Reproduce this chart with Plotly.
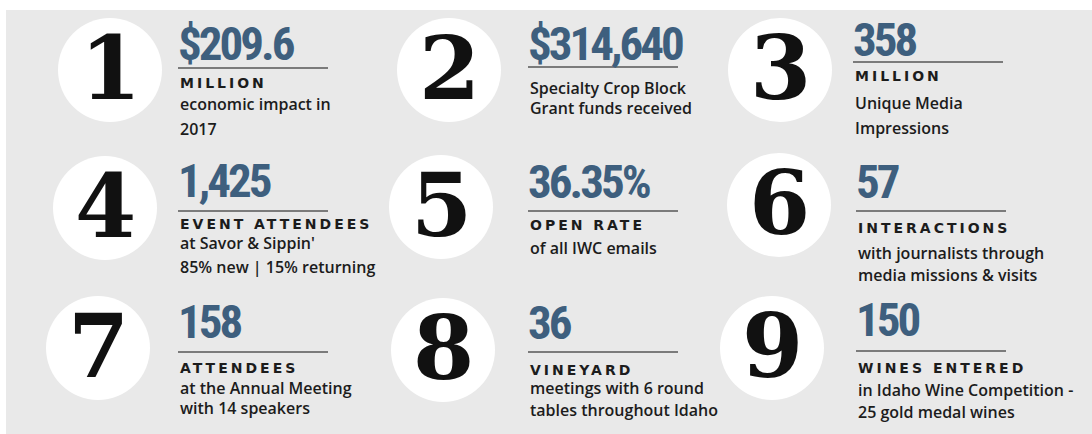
import plotly.graph_objects as go

# ---------------- data ----------------
numerals = ["1", "2", "3", "4", "5", "6", "7", "8", "9"]
values = ["$209.6", "$314,640", "358", "1,425", "36.35%", "57", "158", "36", "150"]
labels = ["MILLION", "", "MILLION", "EVENT ATTENDEES", "OPEN RATE", "INTERACTIONS",
          "ATTENDEES", "VINEYARD", "WINES ENTERED"]
descriptions = [
    ["economic impact in", "2017"],
    ["Specialty Crop Block", "Grant funds received"],
    ["Unique Media", "Impressions"],
    ["at Savor & Sippin'", "85% new | 15% returning"],
    ["of all IWC emails"],
    ["with journalists through", "media missions & visits"],
    ["at the Annual Meeting", "with 14 speakers"],
    ["meetings with 6 round", "tables throughout Idaho"],
    ["in Idaho Wine Competition -", "25 gold medal wines"],
]

# ---------------- layout (pixel positions) ----------------
W, H = 1092, 434
circle_x = [110, 449, 780, 105, 441, 779, 98, 443, 772]
circle_y = [70, 70, 70, 208, 207, 205, 348, 350, 348]
text_x = [178, 528, 853, 178, 528, 856, 178, 528, 856]
value_y = [43, 43, 39, 180, 181, 181, 321, 322, 319]
rule_y = [68, 67, 62, 211, 211, 211, 352, 352, 351]
label_y = [83, None, 76, 224, 225, 228, 368, 370, 368]
desc_y = [104, 88, 103, 243, 248, 253, 388, 388, 390]
desc_step = [25, 20, 25, 24, 22, 22, 20, 22, 22]
RULE_LEN = 150

BG = "#e9e9e9"
BLUE = "#3e5f7e"
INK = "#1c1c1c"

fig = go.Figure()

# white circles behind the big numerals
fig.add_trace(go.Scatter(
    x=circle_x, y=circle_y, mode="markers",
    marker=dict(size=104, color="white", line=dict(width=0)),
    hoverinfo="skip", showlegend=False,
))

shapes = [dict(type="rect", xref="x", yref="y", x0=6, x1=W, y0=10, y1=H,
               fillcolor=BG, line=dict(width=0), layer="below")]
annotations = []

for i in range(9):
    # big serif numeral
    annotations.append(dict(
        x=circle_x[i], y=circle_y[i] - 2, text=numerals[i], showarrow=False,
        xanchor="center", yanchor="middle",
        font=dict(family="DejaVu Serif", size=88, color="#111111", weight="bold"),
    ))
    # value
    annotations.append(dict(
        x=text_x[i] - 2, y=value_y[i],
        text='<span style="letter-spacing:-3px">' + values[i] + '</span>',
        showarrow=False, xanchor="left", yanchor="middle",
        font=dict(family="Roboto Condensed, Liberation Sans Narrow, DejaVu Sans Condensed, Arial Narrow, sans-serif",
                  size=47, color=BLUE, weight="bold"),
    ))
    # rule
    shapes.append(dict(type="line", xref="x", yref="y",
                       x0=text_x[i], x1=text_x[i] + RULE_LEN, y0=rule_y[i], y1=rule_y[i],
                       line=dict(color="#7b7b7b", width=2)))
    # label
    if labels[i]:
        annotations.append(dict(
            x=text_x[i], y=label_y[i],
            text='<span style="letter-spacing:3px">' + labels[i] + '</span>',
            showarrow=False, xanchor="left", yanchor="middle",
            font=dict(family="DejaVu Sans", size=14, color=INK, weight="bold"),
        ))
    # description lines
    for j, line in enumerate(descriptions[i]):
        annotations.append(dict(
            x=text_x[i], y=desc_y[i] + j * desc_step[i], text=line, showarrow=False,
            xanchor="left", yanchor="middle",
            font=dict(family="Open Sans", size=16, color=INK, weight=600),
        ))

fig.update_layout(
    width=W, height=H, margin=dict(l=0, r=0, t=0, b=0),
    paper_bgcolor="white", plot_bgcolor="white",
    xaxis=dict(range=[0, W], visible=False, fixedrange=True),
    yaxis=dict(range=[H, 0], visible=False, fixedrange=True),
    shapes=shapes, annotations=annotations, showlegend=False,
)

fig.write_html("out.html", config={"displayModeBar": False},
               post_script="document.body.style.margin='0';document.body.style.overflow='hidden';")
